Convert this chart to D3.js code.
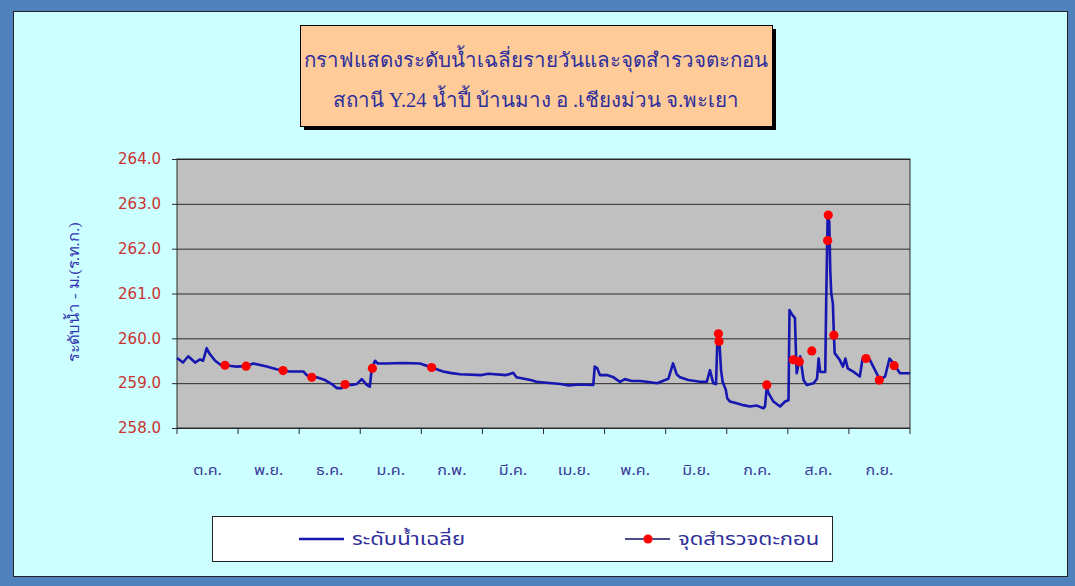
<!DOCTYPE html>
<html>
<head>
<meta charset="utf-8">
<script src="https://cdn.jsdelivr.net/npm/d3@7"></script>
<style>
  body { margin: 0; background: #4f81bd; }
  svg { display: block; }
  text { font-family: Tahoma, "Noto Sans Thai", Loma, Garuda, "DejaVu Sans", sans-serif; }
</style>
</head>
<body>
<svg id="chart" width="1075" height="586"></svg>
<script>
// water year Oct -> Sep
const months = ['ต.ค.', 'พ.ย.', 'ธ.ค.', 'ม.ค.', 'ก.พ.', 'มี.ค.', 'เม.ย.', 'พ.ค.', 'มิ.ย.', 'ก.ค.', 'ส.ค.', 'ก.ย.'];
const yTicks = [258, 259, 260, 261, 262, 263, 264];

// daily mean water level (day of water year, m. MSL)
const levelDays = [0, 3, 5.6, 9, 11.5, 13, 14.8, 16, 19, 22, 24, 29, 34.4, 38, 44.7, 49.6, 52.8, 56, 63, 64.6,
  67, 69.6, 73.7, 77.7, 79.5, 82, 83.7, 87, 89.5, 92, 94.5, 96, 97, 98.6, 100, 104, 112.5, 121, 126.8, 132.5,
  136, 141, 151.7, 155, 164, 167.5, 169, 176, 179, 184, 191, 195, 200.7, 207.3, 208, 209.3, 210.6, 214, 217, 220.6,
  223, 226.4, 230.5, 233.9, 239, 244.7, 247, 248.8, 250.5, 254.6, 260.4, 263.8, 265.4, 267, 268.4, 269.2, 270, 270.9, 271.7, 273.3,
  274, 275.4, 278.7, 282, 285.3, 288.7, 292, 292.8, 293.7, 294.5, 297, 300.3, 302.8, 304.5, 305, 306, 307.7, 308.3, 308.6, 310.3,
  312, 313.6, 317, 318.7, 319.5, 320.3, 322.8, 323.3, 324, 324.8, 325.3, 325.8, 326.6, 327.1, 327.5, 330, 331.6, 332.8,
  334, 336.7, 340, 341.4, 343, 345, 348.4, 350, 352.6, 354.8, 356.8, 360, 365];
const levelValues = [259.56, 259.46, 259.60, 259.46, 259.53, 259.50, 259.78, 259.67, 259.50, 259.40, 259.40, 259.37, 259.38, 259.44, 259.37, 259.31, 259.28, 259.26, 259.26, 259.18,
  259.13, 259.13, 259.07, 258.96, 258.89, 258.89, 258.97, 258.96, 258.98, 259.09, 258.96, 258.92, 259.33, 259.50, 259.44, 259.44, 259.45, 259.44, 259.35, 259.26,
  259.23, 259.20, 259.18, 259.21, 259.18, 259.23, 259.13, 259.07, 259.03, 259.01, 258.98, 258.95, 258.97, 258.96, 259.37, 259.33, 259.18, 259.18, 259.14, 259.03,
  259.09, 259.05, 259.05, 259.03, 259.00, 259.10, 259.44, 259.20, 259.13, 259.07, 259.03, 259.03, 259.29, 259.00, 258.98, 260.12, 260.00, 259.29, 259.03, 258.85,
  258.66, 258.59, 258.55, 258.51, 258.48, 258.50, 258.44, 258.48, 258.92, 258.78, 258.59, 258.48, 258.59, 258.62, 260.63, 260.55, 260.45, 259.52, 259.22, 259.60,
  259.07, 258.96, 259.00, 259.10, 259.55, 259.25, 259.25, 260.93, 262.75, 262.60, 261.50, 261.00, 260.78, 260.07, 259.67, 259.52, 259.37, 259.55,
  259.33, 259.26, 259.15, 259.55, 259.55, 259.52, 259.22, 259.07, 259.15, 259.55, 259.44, 259.22, 259.22];

// sediment survey points
const surveyDays = [23.9, 34.4, 52.8, 67.1, 83.7, 97.3, 126.8, 269.6, 269.9, 293.7, 306.9, 309.9, 316.1, 324.0, 324.3, 327.1, 343.1, 349.7, 357.1];
const surveyValues = [259.40, 259.38, 259.28, 259.13, 258.97, 259.33, 259.35, 260.10, 259.93, 258.96, 259.52, 259.48, 259.72, 262.18, 262.75, 260.07, 259.55, 259.07, 259.39];

const titleLines = ['กราฟแสดงระดับน้ำเฉลี่ยรายวันและจุดสำรวจตะกอน', 'สถานี Y.24 น้ำปี้ บ้านมาง อ .เชียงม่วน จ.พะเยา'];
const legendLabels = ['ระดับน้ำเฉลี่ย', 'จุดสำรวจตะกอน'];

const svg = d3.select('#chart');
const plot = { left: 177, right: 910, top: 159, bottom: 428 };

const x = d3.scaleLinear().domain([0, 365]).range([plot.left, plot.right]);
const y = d3.scaleLinear().domain([258, 264]).range([plot.bottom, plot.top]);
const monthBand = d3.scaleBand().domain(months).range([plot.left, plot.right]);

// chart background
svg.append('rect')
  .attr('x', 13.5).attr('y', 11.5)
  .attr('width', 1054).attr('height', 565)
  .attr('fill', '#ccffff')
  .attr('stroke', '#222')
  .attr('stroke-width', 1);

// plot area
svg.append('rect')
  .attr('x', plot.left).attr('y', plot.top)
  .attr('width', plot.right - plot.left).attr('height', plot.bottom - plot.top)
  .attr('fill', '#c0c0c0');

// y axis with gridlines
const yAxis = svg.append('g')
  .attr('transform', `translate(${plot.left},0)`)
  .call(d3.axisLeft(y).tickValues(yTicks).tickFormat(d3.format('.1f'))
    .tickSize(-(plot.right - plot.left)).tickSizeOuter(0).tickPadding(16));
yAxis.select('.domain').remove();
yAxis.selectAll('line').attr('x1', -5).attr('stroke', '#2a2a2a');
yAxis.selectAll('text')
  .attr('fill', '#c8322f')
  .style('font-size', '15px')
  .style('font-family', 'Tahoma, "DejaVu Sans", sans-serif');

// plot border
svg.append('rect')
  .attr('x', plot.left).attr('y', plot.top)
  .attr('width', plot.right - plot.left).attr('height', plot.bottom - plot.top)
  .attr('fill', 'none')
  .attr('stroke', '#2a2a2a');

// x axis: ticks at month boundaries, labels centred in each month
const monthEdges = months.map(m => monthBand(m)).concat([plot.right]);
const xAxis = svg.append('g').attr('transform', `translate(0,${plot.bottom})`);
xAxis.selectAll('line')
  .data(monthEdges)
  .enter()
  .append('line')
  .attr('x1', d => d).attr('x2', d => d)
  .attr('y1', 0).attr('y2', 6)
  .attr('stroke', '#2a2a2a');
xAxis.selectAll('text')
  .data(months)
  .enter()
  .append('text')
  .attr('transform', d => `translate(${monthBand(d) + monthBand.bandwidth() / 2},47) scale(1.15,1)`)
  .attr('text-anchor', 'middle')
  .attr('fill', '#3a3a9a')
  .style('font-size', '14px')
  .text(d => d);

// y title
svg.append('text')
  .attr('transform', 'translate(79,292) rotate(-90) scale(1.1,1)')
  .attr('text-anchor', 'middle')
  .attr('fill', '#3434b0')
  .style('font-size', '15px')
  .style('font-family', '"Times New Roman", "Liberation Serif", serif')
  .text('ระดับน้ำ - ม.(ร.ท.ก.)');

// daily level line
const levels = levelDays.map((d, i) => ({ day: d, value: levelValues[i] }));
const line = d3.line().x(d => x(d.day)).y(d => y(d.value));
svg.append('path')
  .datum(levels)
  .attr('d', line)
  .attr('fill', 'none')
  .attr('stroke', '#1616b0')
  .attr('stroke-width', 2.6)
  .attr('stroke-linejoin', 'round');

// survey markers
const survey = surveyDays.map((d, i) => ({ day: d, value: surveyValues[i] }));
svg.append('g')
  .selectAll('circle')
  .data(survey)
  .enter()
  .append('circle')
  .attr('cx', d => x(d.day))
  .attr('cy', d => y(d.value))
  .attr('r', 4.6)
  .attr('fill', '#ff0000');

// title box with shadow
const title = svg.append('g');
title.append('rect')
  .attr('x', 304).attr('y', 29)
  .attr('width', 472).attr('height', 101)
  .attr('fill', '#000');
title.append('rect')
  .attr('x', 300.5).attr('y', 25.5)
  .attr('width', 472).attr('height', 101)
  .attr('fill', '#ffcc99')
  .attr('stroke', '#000');
title.selectAll('text')
  .data(titleLines)
  .enter()
  .append('text')
  .attr('x', 536)
  .attr('y', (d, i) => 67 + i * 40)
  .attr('text-anchor', 'middle')
  .attr('fill', '#2e2e9c')
  .style('font-size', '20.5px')
  .style('font-family', '"Times New Roman", "Liberation Serif", serif')
  .text(d => d);

// legend
const legend = svg.append('g');
legend.append('rect')
  .attr('x', 212.5).attr('y', 516.5)
  .attr('width', 620).attr('height', 45)
  .attr('fill', '#fff')
  .attr('stroke', '#222');

const legendItems = legend.selectAll('g.item')
  .data(legendLabels)
  .enter()
  .append('g')
  .attr('class', 'item')
  .attr('transform', (d, i) => `translate(${i === 0 ? 299 : 625},539)`);

legendItems.append('line')
  .attr('x1', 0).attr('x2', 45)
  .attr('stroke', (d, i) => i === 0 ? '#1616b0' : '#101060')
  .attr('stroke-width', (d, i) => i === 0 ? 2.6 : 1.6);

legendItems.filter((d, i) => i === 1)
  .append('circle')
  .attr('cx', 23)
  .attr('r', 4.6)
  .attr('fill', '#ff0000');

legendItems.append('text')
  .attr('transform', 'translate(53,6) scale(1.3,1)')
  .attr('fill', '#2e2e9c')
  .style('font-size', '17px')
  .text(d => d);
</script>
</body>
</html>
